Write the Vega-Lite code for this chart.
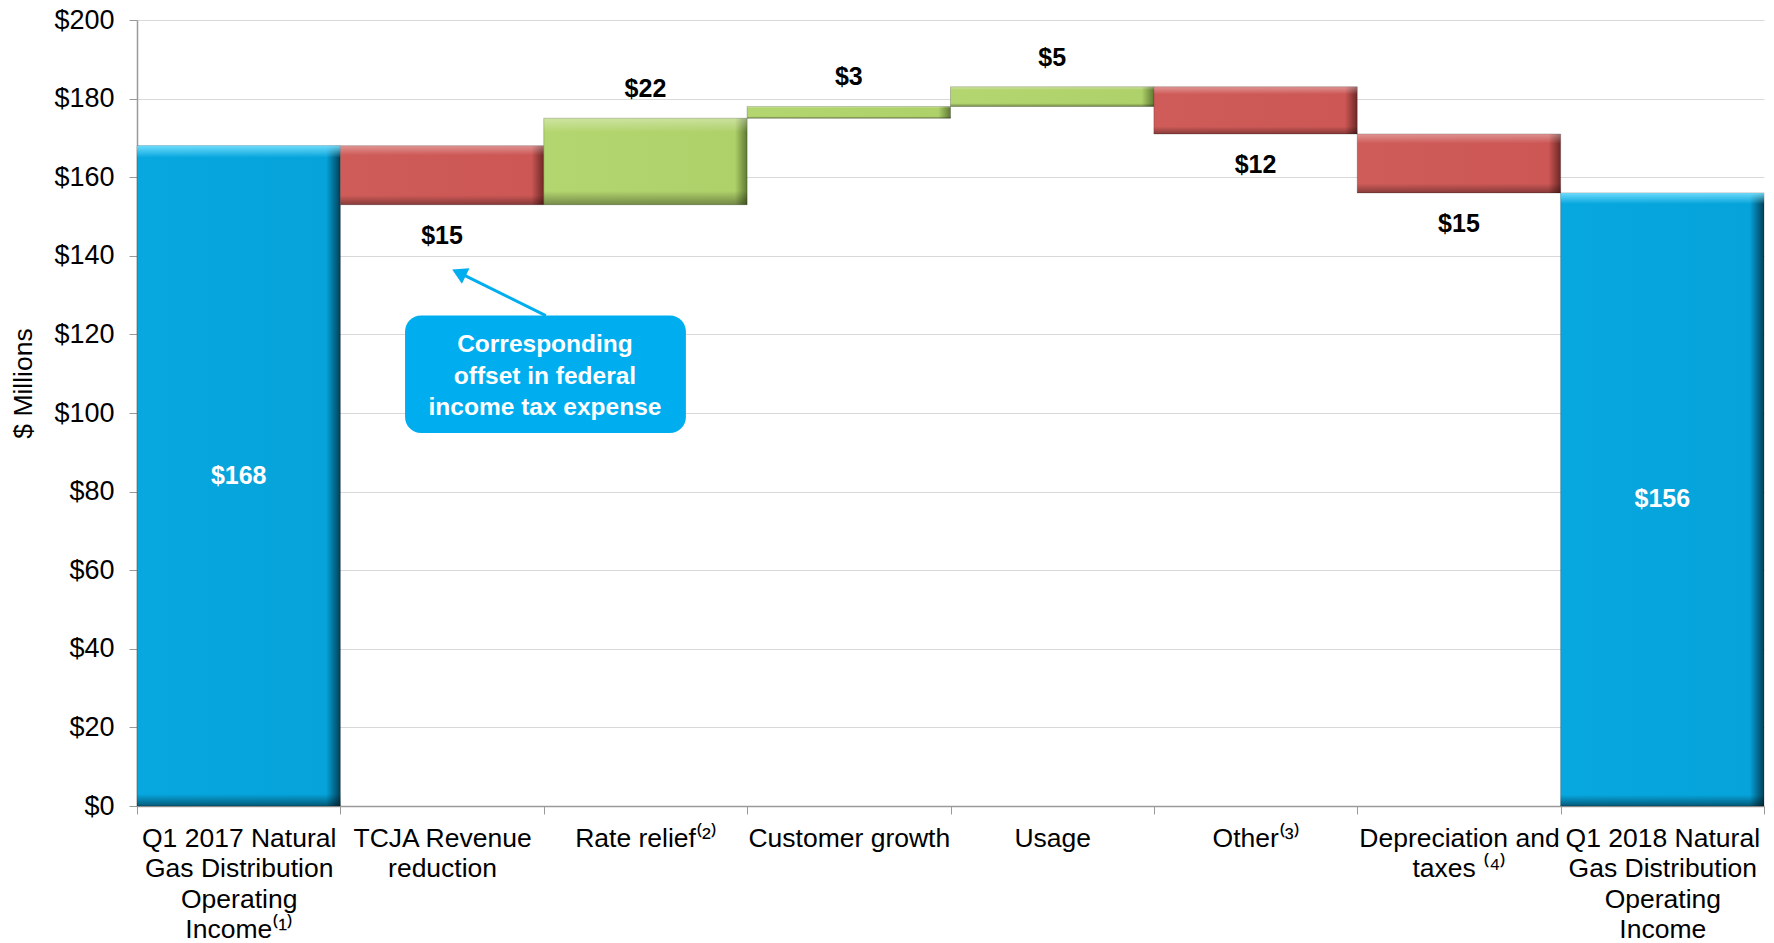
{
  "$schema": "https://vega.github.io/schema/vega-lite/v6.json",
  "width": 1627,
  "height": 786,
  "autosize": {"type": "none"},
  "padding": {"left": 137, "top": 20, "right": 10, "bottom": 137},
  "background": "white",
  "config": {"view": {"stroke": null}, "font": "Liberation Sans"},
  "resolve": {"scale": {"x": "independent"}},
  "layer": [
    {
      "data": {
        "values": [
          {"cat": "Q1 2017 Natural\nGas Distribution\nOperating\nIncome⁽¹⁾", "start": 0, "end": 168, "kind": "total", "label": "$168"},
          {"cat": "TCJA Revenue\nreduction", "start": 168, "end": 153, "kind": "down", "label": "$15"},
          {"cat": "Rate relief⁽²⁾", "start": 153, "end": 175, "kind": "up", "label": "$22"},
          {"cat": "Customer growth", "start": 175, "end": 178, "kind": "up", "label": "$3"},
          {"cat": "Usage", "start": 178, "end": 183, "kind": "up", "label": "$5"},
          {"cat": "Other⁽³⁾", "start": 183, "end": 171, "kind": "down", "label": "$12"},
          {"cat": "Depreciation and\ntaxes ⁽⁴⁾", "start": 171, "end": 156, "kind": "down", "label": "$15"},
          {"cat": "Q1 2018 Natural\nGas Distribution\nOperating\nIncome", "start": 0, "end": 156, "kind": "total", "label": "$156"}
        ]
      },
      "layer": [
        {
          "mark": {"type": "bar", "stroke": "#000000", "strokeOpacity": 0.22, "strokeWidth": 1},
          "encoding": {
            "x": {
              "field": "cat", "type": "nominal", "sort": null,
              "scale": {"paddingInner": 0, "paddingOuter": 0},
              "axis": {
                "title": null,
                "labelAngle": 0,
                "labelExpr": "split(datum.label, '\\n')",
                "labelFont": "Liberation Sans",
                "labelFontSize": 26.5,
                "labelLineHeight": 30.5,
                "labelColor": "#000000",
                "labelBaseline": "top",
                "labelPadding": 11,
                "labelLimit": 400,
                "labelOverlap": false,
                "labelBound": false,
                "tickBand": "extent",
                "tickSize": 8,
                "tickColor": "#9A9A9A",
                "domainColor": "#9A9A9A",
                "domainWidth": 1.5,
                "grid": false
              }
            },
            "y": {
              "field": "start", "type": "quantitative",
              "scale": {"domain": [0, 200], "nice": false, "zero": true},
              "axis": {
                "title": "$ Millions",
                "titleFont": "Liberation Sans",
                "titleFontSize": 26.5,
                "titleFontWeight": "normal",
                "titleColor": "#000000",
                "titleAngle": 270,
                "titleAlign": "center",
                "titleBaseline": "middle",
                "titleX": -114,
                "titleY": 363,
                "values": [0, 20, 40, 60, 80, 100, 120, 140, 160, 180, 200],
                "labelExpr": "'$' + datum.label",
                "labelFont": "Liberation Sans",
                "labelFontSize": 27,
                "labelColor": "#000000",
                "labelPadding": 15,
                "tickSize": 8,
                "tickColor": "#9A9A9A",
                "domainColor": "#9A9A9A",
                "domainWidth": 1.5,
                "grid": true,
                "gridColor": "#D9D9D9",
                "gridWidth": 1.2
              }
            },
            "y2": {"field": "end"},
            "color": {
              "condition": [
                {"test": "datum.kind === 'total'", "value": {"gradient": "linear", "x1": 0, "x2": 1, "y1": 0, "y2": 0, "stops": [{"offset": 0, "color": "#07A7DF"}, {"offset": 0.93, "color": "#05A3DA"}, {"offset": 1, "color": "#033F57"}]}},
                {"test": "datum.kind === 'up'", "value": {"gradient": "linear", "x1": 0, "x2": 1, "y1": 0, "y2": 0, "stops": [{"offset": 0, "color": "#B4D670"}, {"offset": 0.94, "color": "#AFD16A"}, {"offset": 1, "color": "#5F7A32"}]}}
              ],
              "value": {"gradient": "linear", "x1": 0, "x2": 1, "y1": 0, "y2": 0, "stops": [{"offset": 0, "color": "#CF5C59"}, {"offset": 0.94, "color": "#CC5755"}, {"offset": 1, "color": "#6E2826"}]}
            }
          }
        },
        {
          "mark": {"type": "bar"},
          "encoding": {
            "x": {"field": "cat", "type": "nominal", "sort": null},
            "y": {"field": "start", "type": "quantitative"},
            "y2": {"field": "end"},
            "color": {
              "condition": [
                {"test": "datum.kind === 'total'", "value": {"gradient": "linear", "x1": 0, "x2": 0, "y1": 0, "y2": 1, "stops": [{"offset": 0, "color": "rgba(120,225,255,0.9)"}, {"offset": 0.018, "color": "rgba(120,225,255,0)"}, {"offset": 0.982, "color": "rgba(0,0,0,0)"}, {"offset": 1, "color": "rgba(0,0,0,0.45)"}]}}
              ],
              "value": {"gradient": "linear", "x1": 0, "x2": 0, "y1": 0, "y2": 1, "stops": [{"offset": 0, "color": "rgba(255,255,255,0.35)"}, {"offset": 0.16, "color": "rgba(255,255,255,0)"}, {"offset": 0.84, "color": "rgba(0,0,0,0)"}, {"offset": 1, "color": "rgba(0,0,0,0.35)"}]}
            }
          }
        },
        {
          "transform": [
            {"filter": "datum.kind === 'total'"},
            {"fold": ["start", "end"], "as": ["edge", "v"]}
          ],
          "mark": {"type": "text", "font": "Liberation Sans", "fontSize": 25, "fontWeight": "bold", "color": "#FFFFFF", "baseline": "middle"},
          "encoding": {
            "x": {"field": "cat", "type": "nominal", "sort": null},
            "y": {"field": "v", "type": "quantitative", "aggregate": "mean"},
            "text": {"field": "label", "type": "nominal"}
          }
        },
        {
          "transform": [{"filter": "datum.kind === 'up'"}],
          "mark": {"type": "text", "font": "Liberation Sans", "fontSize": 25, "fontWeight": "bold", "color": "#000000", "baseline": "middle", "dy": -29},
          "encoding": {
            "x": {"field": "cat", "type": "nominal", "sort": null},
            "y": {"field": "end", "type": "quantitative"},
            "text": {"field": "label", "type": "nominal"}
          }
        },
        {
          "transform": [{"filter": "datum.kind === 'down'"}],
          "mark": {"type": "text", "font": "Liberation Sans", "fontSize": 25, "fontWeight": "bold", "color": "#000000", "baseline": "middle", "dy": 31},
          "encoding": {
            "x": {"field": "cat", "type": "nominal", "sort": null},
            "y": {"field": "end", "type": "quantitative"},
            "text": {"field": "label", "type": "nominal"}
          }
        }
      ]
    },
    {
      "layer": [
        {
          "data": {"values": [{"ax": 2.01, "ay": 124.8, "ax2": 1.583, "ay2": 135.7}]},
          "mark": {"type": "rule", "color": "#00AEEF", "strokeWidth": 3},
          "encoding": {
            "x": {"field": "ax", "type": "quantitative", "scale": {"domain": [0, 8], "nice": false, "zero": false}, "axis": null},
            "y": {"field": "ay", "type": "quantitative"},
            "x2": {"field": "ax2"},
            "y2": {"field": "ay2"}
          }
        },
        {
          "data": {"values": [{"ax": 1.583, "ay": 135.7}]},
          "mark": {"type": "point", "shape": "triangle-up", "filled": true, "color": "#00AEEF", "opacity": 1, "size": 300, "angle": 296},
          "encoding": {
            "x": {"field": "ax", "type": "quantitative", "axis": null},
            "y": {"field": "ay", "type": "quantitative"}
          }
        },
        {
          "data": {"values": [{"ax": 1.318, "ax2": 2.699, "ay": 94.9, "ay2": 124.8}]},
          "mark": {"type": "rect", "color": "#00AEEF", "cornerRadius": 16},
          "encoding": {
            "x": {"field": "ax", "type": "quantitative", "axis": null},
            "x2": {"field": "ax2"},
            "y": {"field": "ay", "type": "quantitative"},
            "y2": {"field": "ay2"}
          }
        },
        {
          "data": {"values": [{"ax": 2.006, "ay": 117.3, "note": ["Corresponding", "offset in federal", "income tax expense"]}]},
          "mark": {"type": "text", "font": "Liberation Sans", "fontSize": 24.5, "fontWeight": "bold", "color": "#FFFFFF", "align": "center", "baseline": "middle", "lineHeight": 31.5},
          "encoding": {
            "x": {"field": "ax", "type": "quantitative", "axis": null},
            "y": {"field": "ay", "type": "quantitative"},
            "text": {"field": "note", "type": "nominal"}
          }
        }
      ]
    }
  ]
}
